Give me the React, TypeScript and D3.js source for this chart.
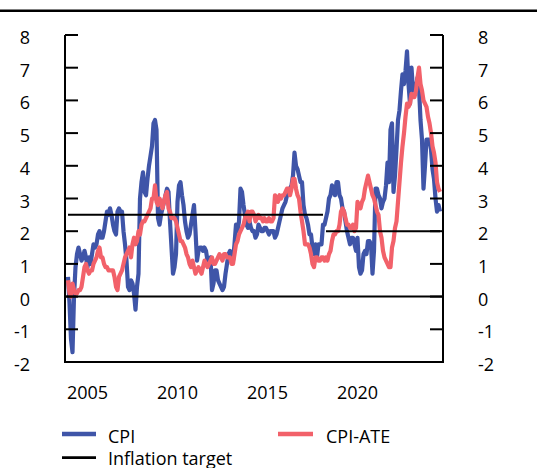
import React from "react";
import * as d3 from "d3";

// First observation: December 2003, monthly to August 2024
const firstMonth = "2003-12";

// CPI, 12-month change, %
const cpi: number[] = [
  0.6,
  // 2004
  -0.2, -1.3, -1.7, 0.0, 0.9, 1.3, 1.5, 1.3, 1.1, 1.2, 1.4, 1.2,
  // 2005
  0.9, 1.2, 1.0, 1.3, 1.6, 1.5, 1.6, 1.9, 2.0, 1.8, 1.8, 2.0,
  // 2006
  2.3, 2.6, 2.5, 2.7, 2.5, 2.2, 2.0, 1.9, 2.6, 2.7, 2.6, 2.6,
  // 2007
  2.0, 1.6, 1.1, 0.3, 0.2, 0.5, 0.4, 0.1, -0.4, 0.3, 0.7, 3.0,
  // 2008
  3.5, 3.8, 3.2, 3.1, 3.6, 4.0, 4.3, 4.6, 5.3, 5.4, 5.1, 2.4,
  // 2009
  2.2, 2.5, 2.7, 2.9, 3.1, 3.3, 3.2, 2.3, 1.5, 0.7, 0.9, 1.3,
  // 2010
  2.9, 3.4, 3.5, 3.1, 2.8, 2.3, 2.0, 1.8, 1.9, 2.2, 2.5, 2.8,
  // 2011
  2.0, 1.1, 1.4, 1.5, 1.5, 1.4, 1.5, 1.4, 1.1, 1.0, 1.2, 0.2,
  // 2012
  0.4, 0.8, 0.8, 0.5, 0.4, 0.3, 0.2, 0.3, 0.7, 1.0, 1.3, 1.4,
  // 2013
  1.3, 1.1, 1.6, 2.2, 2.0, 2.3, 3.3, 3.2, 2.8, 2.5, 2.2, 2.1,
  // 2014
  2.3, 2.1, 2.0, 2.0, 1.8, 1.9, 2.2, 2.1, 2.0, 2.0, 2.1, 2.1,
  // 2015
  2.0, 1.9, 2.0, 2.0, 2.0, 1.8, 1.9, 2.1, 2.3, 2.5, 2.7, 2.8,
  // 2016
  2.9, 3.1, 3.2, 3.3, 3.4, 3.7, 4.4, 4.0, 3.9, 3.7, 3.5, 3.5,
  // 2017
  2.8, 2.5, 2.4, 2.2, 1.9, 1.9, 1.5, 1.3, 1.6, 1.2, 1.6, 1.6,
  // 2018
  1.6, 2.2, 2.2, 2.4, 2.6, 3.0, 3.1, 3.4, 3.3, 3.1, 3.5, 3.5,
  // 2019
  3.1, 3.0, 2.7, 2.6, 2.3, 2.0, 1.8, 1.6, 1.8, 1.8, 1.6, 1.4,
  // 2020
  1.8, 0.9, 0.7, 0.8, 1.3, 1.4, 1.3, 1.7, 1.7, 1.6, 0.7, 1.4,
  // 2021
  3.3, 3.3, 3.1, 3.0, 2.7, 2.9, 3.0, 3.4, 4.1, 3.5, 5.1, 5.3,
  // 2022
  3.2, 3.7, 4.5, 5.4, 5.7, 6.3, 6.8, 6.5, 6.9, 7.5, 6.5, 5.9,
  // 2023
  7.0, 6.3, 6.5, 6.4, 6.7, 6.4, 5.4, 4.8, 3.3, 4.0, 4.8, 4.8,
  // 2024
  4.8, 4.5, 3.9, 3.6, 3.0, 2.6, 2.8, 2.6,
];

// CPI-ATE, 12-month change, %
const cpiAte: number[] = [
  0.5,
  // 2004
  0.1, 0.0, 0.4, 0.2, 0.1, 0.1, 0.2, 0.2, 0.3, 0.6, 0.9, 1.0,
  // 2005
  0.8, 0.7, 0.8, 0.8, 1.0, 1.1, 1.2, 1.4, 1.5, 1.2, 1.2, 1.0,
  // 2006
  0.9, 0.9, 0.8, 0.8, 0.8, 0.8, 0.6, 0.3, 0.2, 0.6, 0.7, 0.8,
  // 2007
  1.0, 1.2, 1.3, 1.4, 1.5, 1.2, 1.6, 1.8, 1.6, 1.7, 2.0, 1.9,
  // 2008
  2.2, 2.3, 2.3, 2.4, 2.5, 2.6, 2.7, 3.0, 3.0, 3.4, 2.9, 2.8,
  // 2009
  3.0, 2.9, 2.7, 2.9, 3.1, 3.2, 2.7, 2.6, 2.4, 2.4, 2.4, 2.3,
  // 2010
  2.1, 1.9, 1.7, 1.7, 1.6, 1.5, 1.3, 1.2, 1.0, 0.9, 1.1, 0.9,
  // 2011
  0.7, 0.8, 0.9, 0.8, 0.7, 0.9, 1.1, 1.0, 0.9, 1.0, 1.1, 1.2,
  // 2012
  1.0, 1.0, 1.1, 1.2, 1.3, 1.2, 1.1, 1.3, 1.3, 1.2, 1.2, 1.2,
  // 2013
  1.0, 1.0, 1.3, 1.6, 1.7, 1.9, 2.0, 2.1, 2.2, 2.4, 2.5, 2.6,
  // 2014
  2.3, 2.6, 2.6, 2.5, 2.3, 2.4, 2.5, 2.4, 2.4, 2.3, 2.4, 2.3,
  // 2015
  2.3, 2.4, 2.3, 2.3, 2.4, 3.1, 3.0, 2.9, 3.1, 3.0, 3.1, 3.1,
  // 2016
  3.2, 3.3, 3.3, 3.1, 3.3, 3.6, 3.6, 3.3, 3.1, 3.0, 2.6, 2.3,
  // 2017
  2.0, 1.6, 1.6, 1.6, 1.5, 1.3, 1.0, 0.9, 1.2, 1.2, 1.1, 1.1,
  // 2018
  1.2, 1.2, 1.1, 1.2, 1.1, 1.3, 1.4, 1.7, 1.9, 1.9, 2.0, 2.0,
  // 2019
  2.2, 2.6, 2.7, 2.6, 2.4, 2.2, 2.2, 2.1, 2.1, 2.2, 2.0, 2.1,
  // 2020
  2.9, 2.8, 2.7, 2.9, 3.0, 3.3, 3.5, 3.7, 3.5, 3.3, 3.1, 3.0,
  // 2021
  2.8, 2.6, 2.5, 2.0, 1.8, 1.4, 1.2, 1.1, 1.0, 0.9, 0.9, 1.5,
  // 2022
  1.7, 2.1, 2.3, 2.9, 3.5, 4.1, 4.6, 5.0, 5.5, 5.9, 5.8, 5.9,
  // 2023
  6.2, 6.1, 6.1, 6.3, 6.7, 7.0, 6.5, 6.3, 6.0, 5.9, 5.8, 5.5,
  // 2024
  5.3, 5.0, 4.6, 4.4, 4.1, 3.5, 3.3, 3.2,
];

// Inflation target periods
const targetValues: number[] = [2.5, 2.0];
const targetStarts: string[] = ["2003-12", "2018-04"];
const targetEnds: string[] = ["2018-02", "2024-08"];

const yTicks: number[] = [-2, -1, 0, 1, 2, 3, 4, 5, 6, 7, 8];
const xTickYears: number[] = [2005, 2010, 2015, 2020];

const seriesNames: string[] = ["CPI", "CPI-ATE", "Inflation target"];
const BLUE = "#3F55A8";
const RED = "#F2616A";

const toDec = (s: string) => {
  const [y, m] = s.split("-").map(Number);
  return y + (m - 1) / 12;
};

export default function App() {
  const W = 537;
  const H = 468;
  const left = 65;
  const right = 443;
  const top = 35;
  const bottom = 362;

  const x = d3.scaleLinear().domain([2003.75, 2024.75]).range([left, right]);
  const y = d3.scaleLinear().domain([-2, 8]).range([bottom, top]);

  const t0 = toDec(firstMonth);
  const line = d3
    .line<number>()
    .x((_, i) => x(t0 + i / 12))
    .y((d) => y(d));

  const font = "'Open Sans', 'Noto Sans', sans-serif";
  const fs = 18;

  return (
    <svg
      width={W}
      height={H}
      style={{ position: "absolute", left: 0, top: 0, background: "#fff" }}
      fontFamily={font}
      fontSize={fs}
    >
      <rect x={0} y={0} width={W} height={H} fill="#fff" />
      <line x1={0} x2={W} y1={10.7} y2={10.7} stroke="#000" strokeWidth={2.6} />

      {/* series */}
      <path d={line(cpi) || ""} fill="none" stroke={BLUE} strokeWidth={4.2} strokeLinejoin="round" />
      <path d={line(cpiAte) || ""} fill="none" stroke={RED} strokeWidth={4.2} strokeLinejoin="round" />

      {/* zero line */}
      <line x1={left} x2={right} y1={y(0)} y2={y(0)} stroke="#000" strokeWidth={2} />

      {/* inflation target */}
      {targetValues.map((v, k) => (
        <line
          key={k}
          x1={x(toDec(targetStarts[k]))}
          x2={x(toDec(targetEnds[k]))}
          y1={y(v)}
          y2={y(v)}
          stroke="#000"
          strokeWidth={2}
        />
      ))}

      {/* axes */}
      <line x1={left} x2={left} y1={top} y2={bottom} stroke="#000" strokeWidth={2} />
      <line x1={right} x2={right} y1={top} y2={bottom} stroke="#000" strokeWidth={2} />
      <line x1={left - 1} x2={right + 1} y1={bottom} y2={bottom} stroke="#000" strokeWidth={2} />
      {yTicks.map((v) => (
        <g key={v}>
          <line x1={left} x2={left + 13} y1={y(v)} y2={y(v)} stroke="#000" strokeWidth={2} />
          <line x1={right - 13} x2={right} y1={y(v)} y2={y(v)} stroke="#000" strokeWidth={2} />
          <text x={30} y={y(v) + 9} textAnchor="end" fill="#000">
            {v}
          </text>
          <text x={478} y={y(v) + 9} textAnchor="start" fill="#000">
            {v}
          </text>
        </g>
      ))}
      {xTickYears.map((yr) => (
        <text key={yr} x={x(yr)} y={399} textAnchor="middle" fill="#000">
          {yr}
        </text>
      ))}

      {/* legend */}
      <line x1={62} x2={96} y1={434} y2={434} stroke={BLUE} strokeWidth={4.5} />
      <text x={108} y={442.5} fill="#000">{seriesNames[0]}</text>
      <line x1={278} x2={313} y1={434} y2={434} stroke={RED} strokeWidth={4.5} />
      <text x={326} y={442.5} fill="#000">{seriesNames[1]}</text>
      <line x1={62} x2={96} y1={457.7} y2={457.7} stroke="#000" strokeWidth={2.8} />
      <text x={108} y={464.5} fill="#000">{seriesNames[2]}</text>
    </svg>
  );
}
